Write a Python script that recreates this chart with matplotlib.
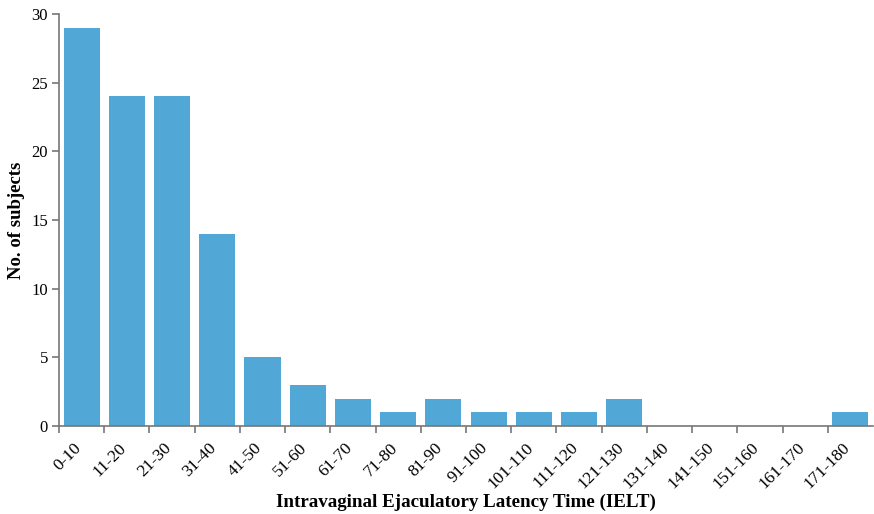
import numpy as np
import matplotlib.pyplot as plt
from matplotlib.transforms import ScaledTranslation

# IELT bins (seconds) and subject counts
bins = ["0-10", "11-20", "21-30", "31-40", "41-50", "51-60", "61-70", "71-80",
        "81-90", "91-100", "101-110", "111-120", "121-130", "131-140",
        "141-150", "151-160", "161-170", "171-180"]
counts = [29, 24, 24, 14, 5, 3, 2, 1, 2, 1, 1, 1, 2, 0, 0, 0, 0, 1]
yticks = [0, 5, 10, 15, 20, 25, 30]

plt.rcParams['font.family'] = ['Liberation Serif', 'DejaVu Serif']

fig = plt.figure(figsize=(8.74, 5.14), dpi=100)
ax = fig.add_axes([59 / 874, 88 / 514, 814 / 874, 412 / 514])

x = np.arange(len(bins))
ax.bar(x, counts, width=0.8, color="#51a7d6")

ax.set_xlim(-0.5, len(bins) - 0.5)
ax.set_ylim(0, 30)
ax.set_yticks(yticks)

# labels sit at band centres, tick marks at band edges
ax.set_xticks(x)
ax.set_xticklabels(bins, rotation=45, ha='right', va='center', rotation_mode='anchor')
ax.set_xticks(np.arange(len(bins)) - 0.5, minor=True)
ax.tick_params(axis='x', which='major', length=0, pad=14, labelsize=12.5)
ax.tick_params(axis='x', which='minor', length=5, color="#777777", width=1.2)
ax.tick_params(axis='y', length=5, color="#777777", width=1.2, labelsize=12, pad=3)
shift = ScaledTranslation(-3 / 100, 0, fig.dpi_scale_trans)
for lab in ax.get_xticklabels():
    lab.set_transform(lab.get_transform() + shift)

for s in ['top', 'right']:
    ax.spines[s].set_visible(False)
for s in ['left', 'bottom']:
    ax.spines[s].set_color("#777777")
    ax.spines[s].set_linewidth(1.2)

ax.yaxis.set_label_coords(-(59 - 16) / 814, 0.5)
ax.set_ylabel("No. of subjects", fontsize=13.5, fontweight='bold', va='center')
ax.xaxis.set_label_coords(0.5, -(502 - 426) / 412)
ax.set_xlabel("Intravaginal Ejaculatory Latency Time (IELT)", fontsize=13.7,
              fontweight='bold', va='center')

fig.savefig("out.png", dpi=100)
